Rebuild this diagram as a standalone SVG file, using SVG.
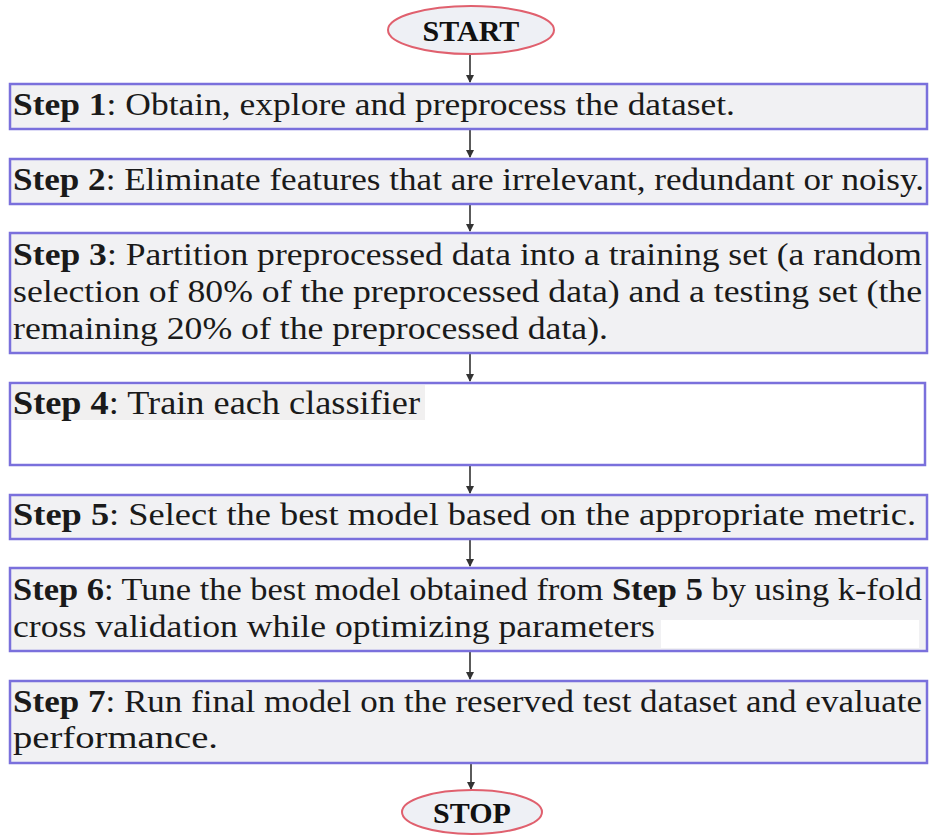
<svg xmlns="http://www.w3.org/2000/svg" width="930" height="836" viewBox="0 0 930 836">
<style>
.box{fill:#f1f1f3;stroke:#7a70dc;stroke-width:2.5}
.term{fill:#eef0f5;stroke:#e0606e;stroke-width:2}
.t{font-family:"Times New Roman","Liberation Serif",Times,serif;font-size:31px;fill:#1a1a1a}
.b{font-weight:bold}
.tt{font-family:"Times New Roman","Liberation Serif",Times,serif;font-size:30px;font-weight:bold;fill:#111;text-anchor:middle}
.c{stroke:#333;stroke-width:1.6;fill:none}
</style>
<defs>
<marker id="ah" markerWidth="8" markerHeight="8" refX="7" refY="4" orient="auto" markerUnits="userSpaceOnUse">
<path d="M0,0 L8,4 L0,8 Z" fill="#333"/>
</marker>
</defs>
<rect width="930" height="836" fill="#fff"/>
<g id="connectors">
<line class="c" x1="470" y1="55" x2="470" y2="82" marker-end="url(#ah)"/>
<line class="c" x1="470" y1="130" x2="470" y2="157" marker-end="url(#ah)"/>
<line class="c" x1="470" y1="205" x2="470" y2="231" marker-end="url(#ah)"/>
<line class="c" x1="470" y1="354" x2="470" y2="381" marker-end="url(#ah)"/>
<line class="c" x1="470" y1="466" x2="470" y2="493" marker-end="url(#ah)"/>
<line class="c" x1="470" y1="540" x2="470" y2="566" marker-end="url(#ah)"/>
<line class="c" x1="470" y1="652" x2="470" y2="679" marker-end="url(#ah)"/>
<line class="c" x1="471" y1="764" x2="471" y2="789" marker-end="url(#ah)"/>
</g>
<g id="start">
<ellipse class="term" cx="471" cy="30" rx="83" ry="24"/>
<text class="tt" x="471" y="41">START</text>
</g>
<g id="step1">
<rect class="box" x="10" y="84" width="917" height="45"/>
<text class="t" x="13" y="115" textLength="722" lengthAdjust="spacingAndGlyphs"><tspan class="b">Step 1</tspan>: Obtain, explore and preprocess the dataset.</text>
</g>
<g id="step2">
<rect class="box" x="10" y="159" width="917" height="45"/>
<text class="t" x="13" y="190" textLength="911" lengthAdjust="spacingAndGlyphs"><tspan class="b">Step 2</tspan>: Eliminate features that are irrelevant, redundant or noisy.</text>
</g>
<g id="step3">
<rect class="box" x="10" y="233" width="917" height="120"/>
<text class="t" x="13" y="265" textLength="909" lengthAdjust="spacingAndGlyphs"><tspan class="b">Step 3</tspan>: Partition preprocessed data into a training set (a random</text>
<text class="t" x="13" y="302" textLength="909" lengthAdjust="spacingAndGlyphs">selection of 80% of the preprocessed data) and a testing set (the</text>
<text class="t" x="13" y="339" textLength="595" lengthAdjust="spacingAndGlyphs">remaining 20% of the preprocessed data).</text>
</g>
<g id="step4">
<rect class="box" x="10" y="383" width="915" height="82" style="fill:#fff"/>
<rect x="12" y="385" width="413" height="35" fill="#f1f0f0"/>
<text class="t" x="13" y="414" textLength="407" lengthAdjust="spacingAndGlyphs" style="font-size:33px"><tspan class="b">Step 4</tspan>:  Train each classifier</text>
</g>
<g id="step5">
<rect class="box" x="10" y="495" width="917" height="44"/>
<text class="t" x="13" y="525" textLength="903" lengthAdjust="spacingAndGlyphs"><tspan class="b">Step 5</tspan>: Select the best model based on the appropriate metric.</text>
</g>
<g id="step6">
<rect class="box" x="10" y="568" width="917" height="83"/>
<text class="t" x="13" y="600" textLength="909" lengthAdjust="spacingAndGlyphs"><tspan class="b">Step 6</tspan>: Tune the best model obtained from <tspan class="b">Step 5</tspan> by using k-fold</text>
<text class="t" x="13" y="637" textLength="642" lengthAdjust="spacingAndGlyphs">cross validation while optimizing parameters</text>
<rect x="661" y="620" width="258" height="28" fill="#fff"/>
</g>
<g id="step7">
<rect class="box" x="10" y="681" width="917" height="82"/>
<text class="t" x="13" y="712" textLength="909" lengthAdjust="spacingAndGlyphs"><tspan class="b">Step 7</tspan>: Run final model on the reserved test dataset and evaluate</text>
<text class="t" x="13" y="748" textLength="205" lengthAdjust="spacingAndGlyphs">performance.</text>
</g>
<g id="stop">
<ellipse class="term" cx="472" cy="812" rx="70" ry="22"/>
<text class="tt" x="472" y="823">STOP</text>
</g>
</svg>
